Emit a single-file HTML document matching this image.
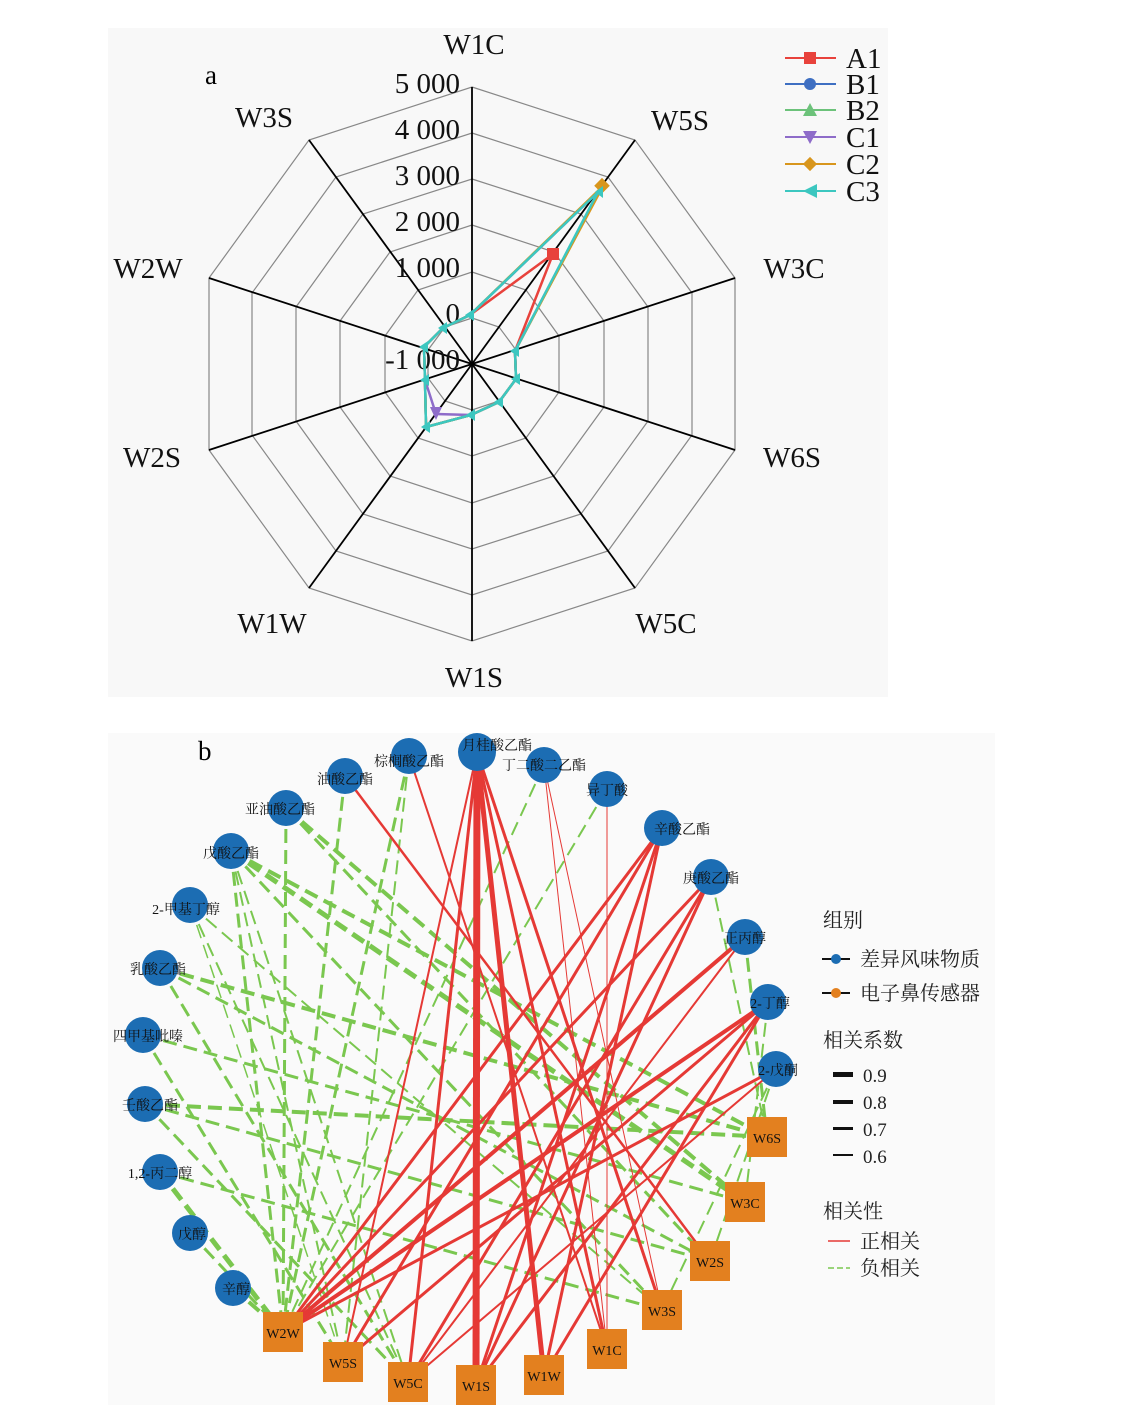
<!DOCTYPE html>
<html><head><meta charset="utf-8"><style>
body{margin:0;background:#fff;width:1135px;height:1414px;overflow:hidden}
svg{position:absolute;left:0;top:0}
text{font-family:"Liberation Serif","Noto Serif CJK SC",serif}
</style></head><body>
<svg width="1135" height="1414" viewBox="0 0 1135 1414">
<rect x="108" y="28" width="780" height="669" fill="#f8f8f8"/>
<rect x="108" y="733" width="887" height="672" fill="#fafafa"/>
<g id="radar" transform="translate(472,364)" fill="none">
<g stroke="#888" stroke-width="1.2">
<polygon points="0,-46 27,-37 44,-14 44,14 27,37 0,46 -27,37 -44,14 -44,-14 -27,-37"/>
<polygon points="0,-92 54,-74 87,-28 87,28 54,74 0,92 -54,74 -87,28 -87,-28 -54,-74"/>
<polygon points="0,-139 82,-112 132,-43 132,43 82,112 0,139 -82,112 -132,43 -132,-43 -82,-112"/>
<polygon points="0,-185 109,-150 176,-57 176,57 109,150 0,185 -109,150 -176,57 -176,-57 -109,-150"/>
<polygon points="0,-231 136,-187 220,-71 220,71 136,187 0,231 -136,187 -220,71 -220,-71 -136,-187"/>
<polygon points="0,-277 163,-224 263,-86 263,86 163,224 0,277 -163,224 -263,86 -263,-86 -163,-224"/>
</g>
<g stroke="#000" stroke-width="1.8">
<line x1="0" y1="0" x2="0" y2="-277"/><line x1="0" y1="0" x2="163" y2="-224"/><line x1="0" y1="0" x2="263" y2="-86"/><line x1="0" y1="0" x2="263" y2="86"/><line x1="0" y1="0" x2="163" y2="224"/><line x1="0" y1="0" x2="0" y2="277"/><line x1="0" y1="0" x2="-163" y2="224"/><line x1="0" y1="0" x2="-263" y2="86"/><line x1="0" y1="0" x2="-263" y2="-86"/><line x1="0" y1="0" x2="-163" y2="-224"/>
</g>
</g>
<g font-size="29" fill="#111" text-anchor="end">
<text x="460" y="93">5 000</text><text x="460" y="139">4 000</text><text x="460" y="185">3 000</text><text x="460" y="231">2 000</text><text x="460" y="277">1 000</text><text x="460" y="323">0</text><text x="460" y="369">-1 000</text>
</g>
<g font-size="29" fill="#111" text-anchor="middle">
<text x="474" y="54">W1C</text><text x="680" y="130">W5S</text><text x="794" y="278">W3C</text><text x="792" y="467">W6S</text><text x="666" y="633">W5C</text><text x="474" y="687">W1S</text><text x="272" y="633">W1W</text><text x="152" y="467">W2S</text><text x="148" y="278">W2W</text><text x="264" y="127">W3S</text>
</g>
<text x="205" y="84" font-size="27">a</text>
<g fill="none" stroke-width="2.5">
<polyline stroke="#e8423c" points="470,315 553,254 515,351 516,379 499,402 471,415 426,427 425,380 424,347 443,328 470,315"/>
<polyline stroke="#3e6fc2" points="470,315 600,190 515,351 516,379 499,402 471,415 426,427 425,380 424,347 443,328 470,315"/>
<polyline stroke="#6cc27a" points="470,315 601,189 515,351 516,379 499,402 471,415 426,427 425,380 424,347 443,328 470,315"/>
<polyline stroke="#8e6cc9" points="470,315 599,191 515,351 516,379 499,402 471,415 436,414 425,380 424,347 443,328 470,315"/>
<polyline stroke="#d8961d" points="470,315 603,186 515,351 516,379 499,402 471,415 426,427 425,380 424,347 443,328 470,315"/>
<polyline stroke="#3cc7c0" points="470,315 598,192 515,351 516,379 499,402 471,415 426,427 425,380 424,347 443,328 470,315"/>
</g>
<rect x="547" y="248" width="12" height="12" fill="#e8423c"/>
<polygon points="430,407 442,407 436,420" fill="#8e6cc9"/>
<rect x="597" y="180" width="11" height="11" fill="#d8961d" transform="rotate(45 602 185)"/>
<g fill="#3cc7c0">
<polygon points="595,192 603,186 603,198"/><polygon points="465,315 474,309 474,321"/><polygon points="510,351 519,345 519,357"/><polygon points="511,379 520,373 520,385"/><polygon points="494,402 503,396 503,408"/><polygon points="466,415 475,409 475,421"/><polygon points="421,427 430,421 430,433"/><polygon points="420,380 429,374 429,386"/><polygon points="419,347 428,341 428,353"/><polygon points="438,328 447,322 447,334"/>
</g>
<g stroke-width="2">
<line x1="785" y1="58" x2="836" y2="58" stroke="#e8423c"/><rect x="804" y="52" width="12" height="12" fill="#e8423c"/>
<line x1="785" y1="84" x2="836" y2="84" stroke="#3e6fc2"/><circle cx="810" cy="84" r="6" fill="#3e6fc2"/>
<line x1="785" y1="110" x2="836" y2="110" stroke="#6cc27a"/><polygon points="803,116 817,116 810,103" fill="#6cc27a"/>
<line x1="785" y1="137" x2="836" y2="137" stroke="#8e6cc9"/><polygon points="803,131 817,131 810,144" fill="#8e6cc9"/>
<line x1="785" y1="164" x2="836" y2="164" stroke="#d8961d"/><rect x="805" y="159" width="10" height="10" fill="#d8961d" transform="rotate(45 810 164)"/>
<line x1="785" y1="191" x2="836" y2="191" stroke="#3cc7c0"/><polygon points="803,191 817,184 817,198" fill="#3cc7c0"/>
</g>
<g font-size="29" fill="#111"><text x="846" y="68">A1</text><text x="846" y="94">B1</text><text x="846" y="120">B2</text><text x="846" y="147">C1</text><text x="846" y="174">C2</text><text x="846" y="201">C3</text></g>

<!-- network -->
<text x="198" y="760" font-size="27">b</text>
<g fill="none" stroke="#7ac74f" stroke-dasharray="14,7">
<line x1="231" y1="851" x2="283" y2="1332" stroke-width="3"/>
<line x1="231" y1="851" x2="408" y2="1382" stroke-width="2"/>
<line x1="231" y1="851" x2="343" y2="1362" stroke-width="2"/>
<line x1="231" y1="851" x2="745" y2="1202" stroke-width="5"/>
<line x1="231" y1="851" x2="767" y2="1137" stroke-width="4"/>
<line x1="231" y1="851" x2="662" y2="1310" stroke-width="3"/>
<line x1="286" y1="808" x2="283" y2="1332" stroke-width="3"/>
<line x1="286" y1="808" x2="745" y2="1202" stroke-width="4"/>
<line x1="286" y1="808" x2="710" y2="1261" stroke-width="3"/>
<line x1="345" y1="776" x2="283" y2="1332" stroke-width="3"/>
<line x1="409" y1="756" x2="283" y2="1332" stroke-width="3"/>
<line x1="409" y1="756" x2="343" y2="1362" stroke-width="2"/>
<line x1="544" y1="765" x2="283" y2="1332" stroke-width="2"/>
<line x1="607" y1="789" x2="283" y2="1332" stroke-width="2"/>
<line x1="190" y1="905" x2="408" y2="1382" stroke-width="2"/>
<line x1="190" y1="905" x2="662" y2="1310" stroke-width="2"/>
<line x1="190" y1="905" x2="343" y2="1362" stroke-width="1.5"/>
<line x1="160" y1="968" x2="767" y2="1137" stroke-width="4"/>
<line x1="160" y1="968" x2="408" y2="1382" stroke-width="3"/>
<line x1="160" y1="968" x2="710" y2="1261" stroke-width="3"/>
<line x1="143" y1="1035" x2="343" y2="1362" stroke-width="3"/>
<line x1="143" y1="1035" x2="745" y2="1202" stroke-width="3"/>
<line x1="145" y1="1104" x2="767" y2="1137" stroke-width="4"/>
<line x1="145" y1="1104" x2="710" y2="1261" stroke-width="3"/>
<line x1="145" y1="1104" x2="408" y2="1382" stroke-width="3"/>
<line x1="160" y1="1172" x2="283" y2="1332" stroke-width="5"/>
<line x1="160" y1="1172" x2="662" y2="1310" stroke-width="3"/>
<line x1="190" y1="1233" x2="283" y2="1332" stroke-width="3"/>
<line x1="233" y1="1288" x2="283" y2="1332" stroke-width="4"/>
<line x1="745" y1="937" x2="767" y2="1137" stroke-width="3"/>
<line x1="768" y1="1002" x2="745" y2="1202" stroke-width="2"/>
<line x1="776" y1="1069" x2="662" y2="1310" stroke-width="2"/>
<line x1="776" y1="1069" x2="710" y2="1261" stroke-width="2"/>
<line x1="711" y1="877" x2="767" y2="1137" stroke-width="2"/>
</g>
<g fill="none" stroke="#e53935">
<line x1="477" y1="752" x2="476" y2="1385" stroke-width="7"/>
<line x1="477" y1="752" x2="544" y2="1375" stroke-width="5"/>
<line x1="477" y1="752" x2="408" y2="1382" stroke-width="3"/>
<line x1="477" y1="752" x2="607" y2="1349" stroke-width="3"/>
<line x1="477" y1="752" x2="662" y2="1310" stroke-width="3"/>
<line x1="477" y1="752" x2="343" y2="1362" stroke-width="2"/>
<line x1="345" y1="776" x2="710" y2="1261" stroke-width="2.5"/>
<line x1="409" y1="756" x2="607" y2="1349" stroke-width="2"/>
<line x1="544" y1="765" x2="607" y2="1349" stroke-width="1"/>
<line x1="544" y1="765" x2="662" y2="1310" stroke-width="1"/>
<line x1="607" y1="789" x2="607" y2="1349" stroke-width="1"/>
<line x1="662" y1="828" x2="283" y2="1332" stroke-width="3"/>
<line x1="662" y1="828" x2="343" y2="1362" stroke-width="3"/>
<line x1="662" y1="828" x2="476" y2="1385" stroke-width="3"/>
<line x1="662" y1="828" x2="544" y2="1375" stroke-width="3"/>
<line x1="711" y1="877" x2="283" y2="1332" stroke-width="3"/>
<line x1="711" y1="877" x2="408" y2="1382" stroke-width="3"/>
<line x1="711" y1="877" x2="476" y2="1385" stroke-width="3"/>
<line x1="745" y1="937" x2="283" y2="1332" stroke-width="4"/>
<line x1="745" y1="937" x2="408" y2="1382" stroke-width="2"/>
<line x1="768" y1="1002" x2="283" y2="1332" stroke-width="4"/>
<line x1="768" y1="1002" x2="343" y2="1362" stroke-width="3"/>
<line x1="768" y1="1002" x2="476" y2="1385" stroke-width="3"/>
<line x1="768" y1="1002" x2="544" y2="1375" stroke-width="3"/>
<line x1="776" y1="1069" x2="283" y2="1332" stroke-width="3"/>
<line x1="776" y1="1069" x2="408" y2="1382" stroke-width="2"/>
</g>
<g fill="#1c6db3">
<circle cx="477" cy="752" r="19"/><circle cx="409" cy="756" r="18"/><circle cx="544" cy="765" r="18"/><circle cx="345" cy="776" r="18"/><circle cx="607" cy="789" r="18"/><circle cx="286" cy="808" r="18"/><circle cx="662" cy="828" r="18"/><circle cx="231" cy="851" r="18"/><circle cx="711" cy="877" r="18"/><circle cx="190" cy="905" r="18"/><circle cx="745" cy="937" r="18"/><circle cx="160" cy="968" r="18"/><circle cx="768" cy="1002" r="18"/><circle cx="143" cy="1035" r="18"/><circle cx="776" cy="1069" r="18"/><circle cx="145" cy="1104" r="18"/><circle cx="160" cy="1172" r="18"/><circle cx="190" cy="1233" r="18"/><circle cx="233" cy="1288" r="18"/>
</g>
<g fill="#e3801f">
<rect x="747" y="1117" width="40" height="40"/><rect x="725" y="1182" width="40" height="40"/><rect x="690" y="1241" width="40" height="40"/><rect x="642" y="1290" width="40" height="40"/><rect x="587" y="1329" width="40" height="40"/><rect x="524" y="1355" width="40" height="40"/><rect x="456" y="1365" width="40" height="40"/><rect x="388" y="1362" width="40" height="40"/><rect x="323" y="1342" width="40" height="40"/><rect x="263" y="1312" width="40" height="40"/>
</g>
<g font-size="14" fill="#111" text-anchor="middle">
<text x="497" y="750">月桂酸乙酯</text><text x="409" y="766">棕榈酸乙酯</text><text x="544" y="770">丁二酸二乙酯</text><text x="345" y="784">油酸乙酯</text><text x="607" y="795">异丁酸</text><text x="280" y="814">亚油酸乙酯</text><text x="682" y="834">辛酸乙酯</text><text x="231" y="858">戊酸乙酯</text><text x="711" y="883">庚酸乙酯</text><text x="186" y="914">2-甲基丁醇</text><text x="745" y="943">正丙醇</text><text x="158" y="974">乳酸乙酯</text><text x="770" y="1008">2-丁醇</text><text x="148" y="1041">四甲基吡嗪</text><text x="778" y="1075">2-戊酮</text><text x="150" y="1110">壬酸乙酯</text><text x="160" y="1178">1,2-丙二醇</text><text x="192" y="1239">戊醇</text><text x="236" y="1294">辛醇</text>
<text x="767" y="1143">W6S</text><text x="745" y="1208">W3C</text><text x="710" y="1267">W2S</text><text x="662" y="1316">W3S</text><text x="607" y="1355">W1C</text><text x="544" y="1381">W1W</text><text x="476" y="1391">W1S</text><text x="408" y="1388">W5C</text><text x="343" y="1368">W5S</text><text x="283" y="1338">W2W</text>
</g>
<g font-size="20" fill="#222">
<text x="823" y="927">组别</text>
<line x1="822" y1="959" x2="850" y2="959" stroke="#111" stroke-width="2"/><circle cx="836" cy="959" r="5" fill="#1c6db3"/><text x="860" y="966">差异风味物质</text>
<line x1="822" y1="993" x2="850" y2="993" stroke="#111" stroke-width="2"/><circle cx="836" cy="993" r="5" fill="#e3801f"/><text x="860" y="1000">电子鼻传感器</text>
<text x="823" y="1047">相关系数</text>
<rect x="833" y="1072" width="20" height="5" fill="#111"/><text x="863" y="1082" font-size="19">0.9</text>
<rect x="833" y="1100" width="20" height="4" fill="#111"/><text x="863" y="1109" font-size="19">0.8</text>
<rect x="833" y="1127" width="20" height="3" fill="#111"/><text x="863" y="1136" font-size="19">0.7</text>
<rect x="833" y="1154" width="20" height="2" fill="#111"/><text x="863" y="1163" font-size="19">0.6</text>
<text x="823" y="1218">相关性</text>
<line x1="828" y1="1241" x2="850" y2="1241" stroke="#e53935" stroke-width="1.5"/><text x="860" y="1248">正相关</text>
<line x1="828" y1="1268" x2="850" y2="1268" stroke="#7ac74f" stroke-width="1.5" stroke-dasharray="6,3"/><text x="860" y="1275">负相关</text>
</g>
</svg>
</body></html>
